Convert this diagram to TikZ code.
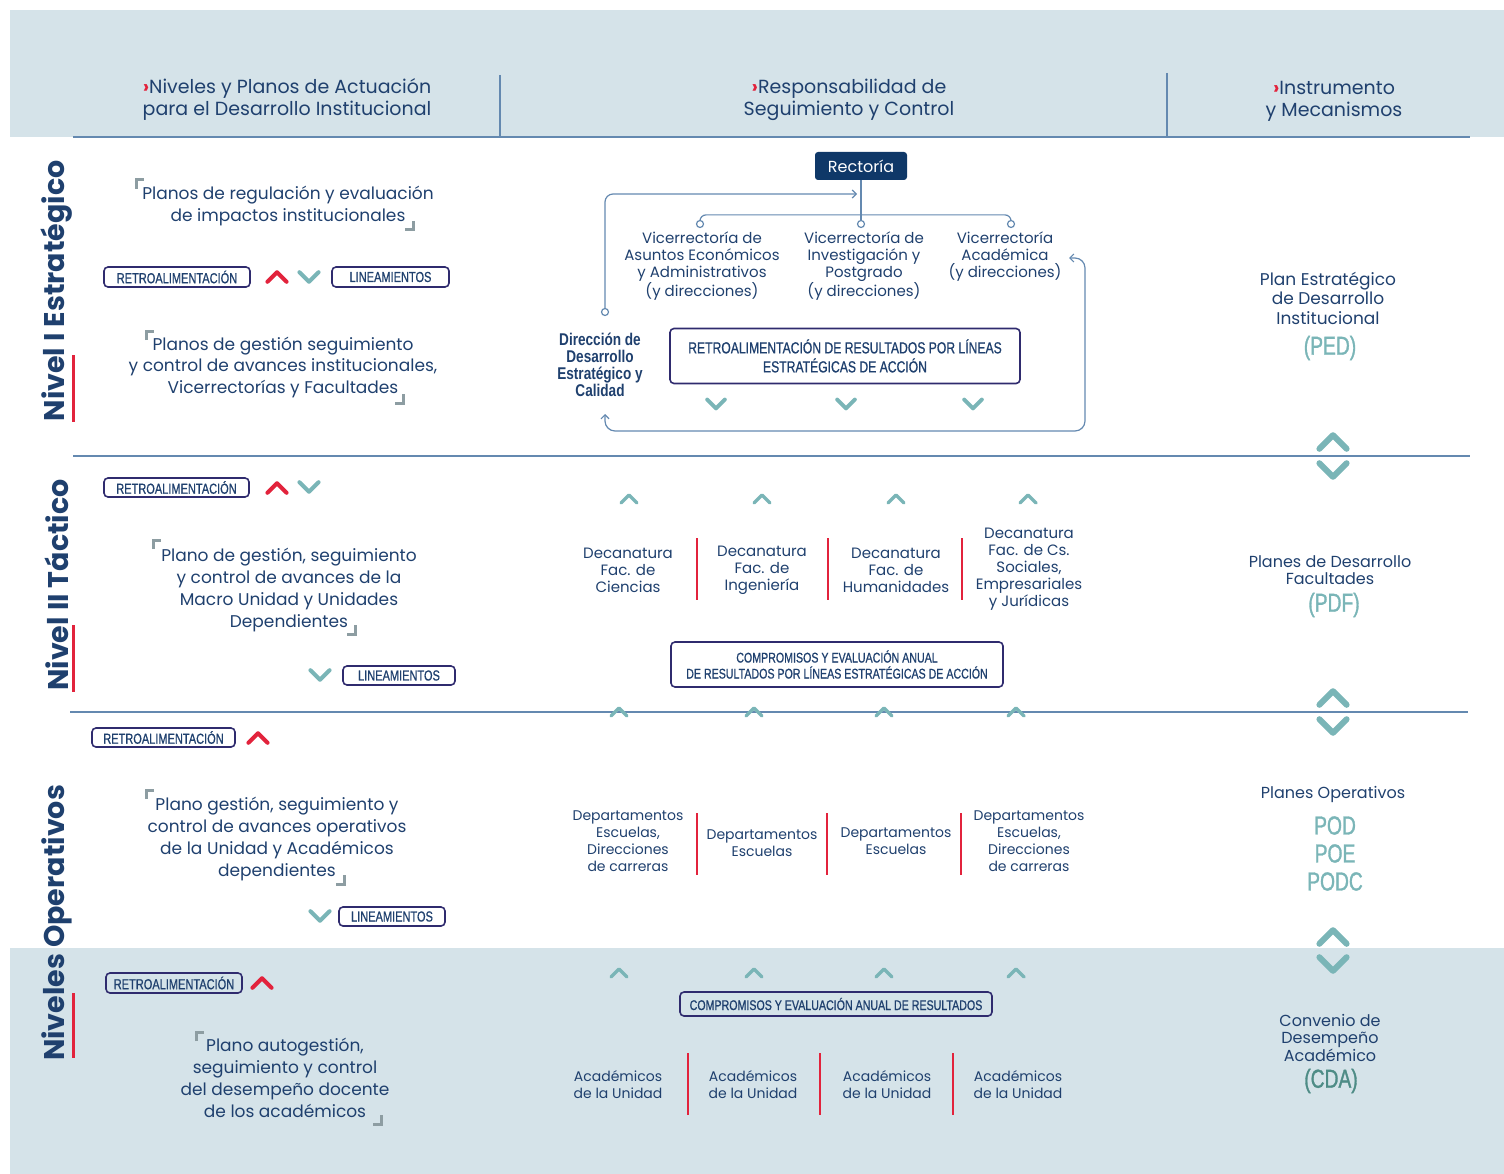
\documentclass[tikz,border=0pt]{standalone}
\usepackage{fontspec}
\setmainfont{Poppins}
\newfontfamily\condf[FakeStretch=0.76,FakeBold=0.8]{Liberation Sans}
\newfontfamily\condb[FakeStretch=0.8]{Liberation Sans}
\newfontfamily\siglaf[FakeStretch=0.74,FakeBold=1.2]{Liberation Sans}
\usetikzlibrary{arrows.meta,positioning}
\definecolor{banda}{HTML}{D5E3E9}
\definecolor{azul}{HTML}{1F406E}
\definecolor{linea}{HTML}{6489B0}
\definecolor{turq}{HTML}{7AB5B7}
\definecolor{turqosc}{HTML}{4E8C86}
\definecolor{rojo}{HTML}{E2233C}
\definecolor{morado}{HTML}{2F2B6E}
\definecolor{gris}{HTML}{8D9DA2}
\definecolor{rector}{HTML}{0F3868}
\tikzset{
 tx/.style={align=center,text=azul,inner sep=0pt,font=\fontsize{15}{17}\selectfont},
 plano/.style={tx,font=\fontsize{17}{22}\selectfont},
 instr/.style={tx,font=\fontsize{17}{19.5}\selectfont},
 cajon/.style={draw=morado,line width=1.6pt,rounded corners=4pt,text=azul,align=center,inner sep=0pt,font=\condf\fontsize{14.5}{16}\selectfont},
 sigla/.style={text=turq,inner sep=0pt,align=center,font=\siglaf\fontsize{26}{28}\selectfont},
 nivel/.style={rotate=90,text=azul,inner sep=0pt,font=\bfseries\fontsize{28.5}{28.5}\selectfont},
 chevup/.pic={\draw[pic actions,line cap=round,line join=round](-8,4)--(0,-4)--(8,4);},
 chevdn/.pic={\draw[pic actions,line cap=round,line join=round](-8,-4)--(0,4)--(8,-4);},
 esqi/.pic={\draw[gris,line width=3pt](0,9)--(0,0)--(8,0);},
 esqd/.pic={\draw[gris,line width=3pt](0,-9)--(0,0)--(-8,0);},
 punto/.style={circle,draw=linea,fill=white,line width=1.2pt,minimum size=7pt,inner sep=0pt},
 flecha/.style={draw=linea,line width=1.2pt,rounded corners=8pt},
 punta/.tip={Straight Barb[length=4pt,width=8pt]},
 sep/.style={rojo,line width=1.5pt},
 raya/.style={linea,line width=1.3pt}
}
\begin{document}
\begin{tikzpicture}[x=1pt,y=-1pt]
\useasboundingbox(0,0)rectangle(1504,1174);
% bandas de fondo
\fill[banda](10,10)rectangle(1504,137);
\fill[banda](10,948)rectangle(1504,1174);
\draw[raya](73,137)--(1470,137)(500,75)--(500,137)(1167,73)--(1167,137);
\draw[raya](73,456)--(1470,456)(70,712)--(1468,712);
% encabezados
\node[tx,font=\fontsize{19}{22}\selectfont](hNiv)at(287,99){\textcolor{rojo}{\textbf{›}}Niveles y Planos de Actuación\\para el Desarrollo Institucional};
\node[tx,font=\fontsize{19}{22}\selectfont](hResp)at(849,100){\textcolor{rojo}{\textbf{›}}Responsabilidad de\\Seguimiento y Control};
\node[tx,font=\fontsize{19}{22}\selectfont](hInst)at(1334,101){\textcolor{rojo}{\textbf{›}}Instrumento\\y Mecanismos};
% niveles
\node[nivel](nI)at(57,291){Nivel I Estratégico};
\node[nivel](nII)at(57,585){Nivel II Táctico};
\node[nivel](nIII)at(57,923){Niveles Operativos};
\draw[rojo,line width=3pt](73,355)--(73,422)(73,625)--(73,692)(73,993)--(73,1058);
% --- Nivel I
\node[plano](pRegul)at(288,206){Planos de regulación y evaluación\\de impactos institucionales};
\pic at(136,180){esqi};\pic at(413,230){esqd};
\node[cajon,minimum width=146pt,minimum height=20pt](retroI)at(177,277){RETROALIMENTACIÓN};
\node[cajon,minimum width=117pt,minimum height=20pt](linI)at(390.5,277){LINEAMIENTOS};
\pic[draw=rojo,line width=4pt,scale=1.2]at(277,277){chevup};
\pic[draw=turq,line width=4pt,scale=1.2]at(309,277){chevdn};
\node[plano,font=\fontsize{17}{21.5}\selectfont](pGest)at(283,367){Planos de gestión seguimiento\\y control de avances institucionales,\\Vicerrectorías y Facultades};
\pic at(146,331){esqi};\pic at(403,403){esqd};
\node[fill=rector,text=white,rounded corners=3pt,minimum width=92pt,minimum height=28pt,inner sep=0pt,font=\fontsize{16}{18}\selectfont](rect)at(861,166){Rectoría};
\node[punto](cA)at(700,224){};\node[punto](cB)at(861,224){};\node[punto](cC)at(1011,224){};
\draw[flecha](rect)--(cB);
\draw[flecha,rounded corners=6pt](cA.north)--++(0,-5)-|(cC.north);
\node[tx](vAsun)at(702,266){Vicerrectoría de\\Asuntos Económicos\\y Administrativos\\(y direcciones)};
\node[tx](vInv)at(864,266){Vicerrectoría de\\Investigación y\\Postgrado\\(y direcciones)};
\node[tx](vAcad)at(1005,257){Vicerrectoría\\Académica\\(y direcciones)};
\node[tx,font=\condb\bfseries\fontsize{17}{17}\selectfont](dir)at(600,365){Dirección de\\Desarrollo\\Estratégico y\\Calidad};
\node[punto](cD)at(605,312){};
\coordinate(ent)at(857,194);
\draw[flecha,-punta](cD.north)|-(ent);
\coordinate(retA)at(605,414);\coordinate(retB)at(1069,258);
\draw[flecha,rounded corners=10pt,punta-punta](retA)--(605,431)-|(1085,258)--(retB);
\node[cajon,minimum width=350pt,minimum height=55pt,font=\condf\fontsize{16}{19}\selectfont](retroRes)at(845,356){RETROALIMENTACIÓN DE RESULTADOS POR LÍNEAS\\ESTRATÉGICAS DE ACCIÓN};
\foreach \x in{716,846,973}\pic[draw=turq,line width=4pt,scale=1.1]at(\x,404){chevdn};
\node[instr](iPed)at(1328,298){Plan Estratégico\\de Desarrollo\\Institucional};
\node[sigla](sPed)at(1330,348){(PED)};
\pic[draw=turq,line width=6pt,scale=1.7]at(1333,442){chevup};
\pic[draw=turq,line width=6pt,scale=1.7]at(1333,470){chevdn};
% --- Nivel II
\node[cajon,minimum width=145pt,minimum height=19pt](retroII)at(176.5,487.5){RETROALIMENTACIÓN};
\pic[draw=rojo,line width=4pt,scale=1.2]at(277,488){chevup};
\pic[draw=turq,line width=4pt,scale=1.2]at(309,487){chevdn};
\node[plano](pMacro)at(289,590){Plano de gestión, seguimiento\\y control de avances de la\\Macro Unidad y Unidades\\Dependientes};
\pic at(153,540){esqi};\pic at(355,634){esqd};
\pic[draw=turq,line width=4pt,scale=1.2]at(320,675){chevdn};
\node[cajon,minimum width=112pt,minimum height=19pt](linII)at(399,675.5){LINEAMIENTOS};
\foreach \x in{629,762,896,1028}\pic[draw=turq,line width=3.5pt]at(\x,499){chevup};
\node[tx](dCien)at(628,570){Decanatura\\Fac. de\\Ciencias};
\node[tx](dIng)at(762,570){Decanatura\\Fac. de\\Ingeniería};
\node[tx](dHum)at(896,570){Decanatura\\Fac. de\\Humanidades};
\node[tx](dSoc)at(1029,569){Decanatura\\Fac. de Cs.\\Sociales,\\Empresariales\\y Jurídicas};
\draw[sep](697,538)--(697,600)(828,538)--(828,600)(962,538)--(962,600);
\node[cajon,minimum width=332pt,minimum height=45pt,font=\condf\fontsize{14}{16}\selectfont](compI)at(837,664.5){COMPROMISOS Y EVALUACIÓN ANUAL\\DE RESULTADOS POR LÍNEAS ESTRATÉGICAS DE ACCIÓN};
\foreach \x in{619,754,884,1016}\pic[draw=turq,line width=3.5pt]at(\x,712){chevup};
\node[instr,font=\fontsize{16}{17}\selectfont](iPdf)at(1330,570.5){Planes de Desarrollo\\Facultades};
\node[sigla](sPdf)at(1334,605){(PDF)};
\pic[draw=turq,line width=6pt,scale=1.7]at(1333,698){chevup};
\pic[draw=turq,line width=6pt,scale=1.7]at(1333,726){chevdn};
% --- Niveles operativos
\node[cajon,minimum width=143pt,minimum height=19pt](retroIII)at(163.5,737.5){RETROALIMENTACIÓN};
\pic[draw=rojo,line width=4pt,scale=1.2]at(258,738){chevup};
\node[plano](pOper)at(277,839){Plano gestión, seguimiento y\\control de avances operativos\\de la Unidad y Académicos\\dependientes};
\pic at(146,790){esqi};\pic at(344,884){esqd};
\pic[draw=turq,line width=4pt,scale=1.2]at(320,916){chevdn};
\node[cajon,minimum width=106pt,minimum height=19pt](linIII)at(392,916.5){LINEAMIENTOS};
\node[tx,font=\fontsize{14}{17}\selectfont](dep1)at(628,841.5){Departamentos\\Escuelas,\\Direcciones\\de carreras};
\node[tx,font=\fontsize{14}{17}\selectfont](dep2)at(762,843.5){Departamentos\\Escuelas};
\node[tx,font=\fontsize{14}{17}\selectfont](dep3)at(896,841.5){Departamentos\\Escuelas};
\node[tx,font=\fontsize{14}{17}\selectfont](dep4)at(1029,841.5){Departamentos\\Escuelas,\\Direcciones\\de carreras};
\draw[sep](697,813)--(697,875)(827,813)--(827,875)(961,813)--(961,875);
\node[instr,font=\fontsize{16}{17}\selectfont](iPo)at(1333,794){Planes Operativos};
\node[sigla](sPo)at(1335,853.5){POD\\POE\\PODC};
\pic[draw=turq,line width=6pt,scale=1.7]at(1333,937){chevup};
\pic[draw=turq,line width=6pt,scale=1.7]at(1333,964){chevdn};
% --- banda inferior
\node[cajon,minimum width=136pt,minimum height=20pt](retroIV)at(174,983){RETROALIMENTACIÓN};
\pic[draw=rojo,line width=4pt,scale=1.2]at(262,983){chevup};
\node[plano](pAuto)at(285,1078){Plano autogestión,\\seguimiento y control\\del desempeño docente\\de los académicos};
\pic at(196,1032){esqi};\pic at(381,1124){esqd};
\foreach \x in{619,754,884,1016}\pic[draw=turq,line width=3.5pt]at(\x,973){chevup};
\node[cajon,minimum width=312pt,minimum height=24pt,font=\condf\fontsize{14}{16}\selectfont](compII)at(836,1004){COMPROMISOS Y EVALUACIÓN ANUAL DE RESULTADOS};
\node[tx,font=\fontsize{14}{17}\selectfont](ac1)at(618,1084.5){Académicos\\de la Unidad};
\node[tx,font=\fontsize{14}{17}\selectfont](ac2)at(753,1084.5){Académicos\\de la Unidad};
\node[tx,font=\fontsize{14}{17}\selectfont](ac3)at(887,1084.5){Académicos\\de la Unidad};
\node[tx,font=\fontsize{14}{17}\selectfont](ac4)at(1018,1084.5){Académicos\\de la Unidad};
\draw[sep](688,1053)--(688,1115)(820,1053)--(820,1115)(953,1053)--(953,1115);
\node[instr,font=\fontsize{16}{17.5}\selectfont](iCda)at(1330,1037.5){Convenio de\\Desempeño\\Académico};
\node[sigla,text=turqosc](sCda)at(1331,1081){(CDA)};
\end{tikzpicture}
\end{document}
